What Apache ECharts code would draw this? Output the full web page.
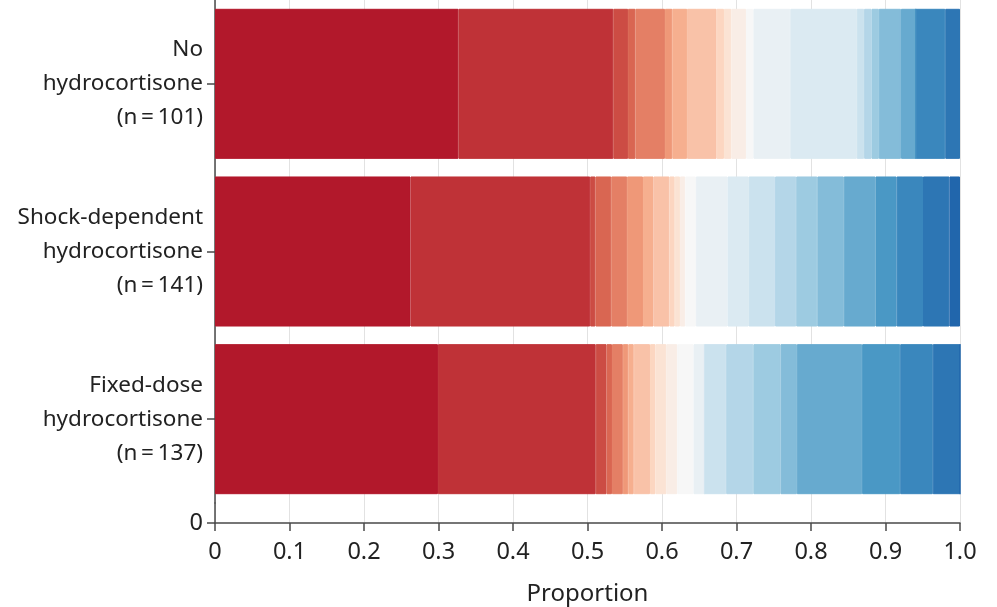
<!DOCTYPE html>
<html><head><meta charset="utf-8">
<script src="https://cdn.jsdelivr.net/npm/echarts@6/dist/echarts.min.js"></script>
<style>html,body{margin:0;padding:0;background:#fff}#c{width:997px;height:607px}</style>
</head><body><div id="c"></div>
<script>
// Groups (top to bottom)
const groupNames = ['No\nhydrocortisone', 'Shock-dependent\nhydrocortisone', 'Fixed-dose\nhydrocortisone'];
const groupN = [101, 141, 137];
// Ordinal outcome levels: death, then 0..21 organ support-free days
const outcomeLevels = ['Death','0','1','2','3','4','5','6','7','8','9','10','11','12','13','14','15','16','17','18','19','20','21'];
// Patients per outcome level
const countsNo    = [33,21,2,1,4,1,2,4,1,1,2,1,5,9,1,1,1,3,2,0,4,2,0];
const countsShock = [37,34,1,3,3,3,2,3,1,1,1,2,6,4,5,4,4,5,6,4,5,5,2];
const countsFixed = [41,29,2,1,2,1,1,3,1,2,2,3,2,0,4,5,5,3,12,7,6,5,0];
const xTickLabels = ['0','0.1','0.2','0.3','0.4','0.5','0.6','0.7','0.8','0.9','1.0'];
const paletteAnchors = ['#b2182b','#d6604d','#f4a582','#fddbc7','#f7f7f7','#d1e5f0','#92c5de','#4393c3','#2166ac'];

function hex2rgb(h){return [parseInt(h.slice(1,3),16),parseInt(h.slice(3,5),16),parseInt(h.slice(5,7),16)];}
function paletteAt(i, n){
  const t = i/(n-1)*(paletteAnchors.length-1);
  const k = Math.min(Math.floor(t), paletteAnchors.length-2);
  const f = t-k;
  const a = hex2rgb(paletteAnchors[k]), b = hex2rgb(paletteAnchors[k+1]);
  const c = a.map((v,j)=>Math.round(v+(b[j]-v)*f));
  return 'rgb('+c.join(',')+')';
}

const allCounts = [countsNo, countsShock, countsFixed];
const yLabels = groupNames.map((g,i)=> g + '\n(n\u2009=\u2009' + groupN[i] + ')');

const FONT = 'Noto Sans';
const TXT = '#222';
const AX = '#4a4a4a';
const SPLIT = '#e2e2e2';

const series = outcomeLevels.map((lvl, k) => {
  const col = paletteAt(k, outcomeLevels.length);
  return {
    name: lvl,
    type: 'bar',
    stack: 'total',
    xAxisIndex: 0, yAxisIndex: 0,
    barCategoryGap: '10.5%',
    itemStyle: { color: col, borderColor: col, borderWidth: 1 },
    emphasis: { disabled: true },
    data: allCounts.map((c, g) => c[k] / groupN[g])
  };
});

const chart = echarts.init(document.getElementById('c'), null, {renderer:'canvas'});
chart.setOption({
  animation: false,
  backgroundColor: '#fff',
  grid: [
    { left: 215, right: 37, top: 0, height: 503 },
    { left: 215, right: 37, top: 503, height: 21 }
  ],
  xAxis: [
    { gridIndex: 0, type: 'value', min: 0, max: 1, interval: 0.1,
      axisLine: {show:false}, axisTick: {show:false}, axisLabel: {show:false},
      splitLine: {show:true, lineStyle:{color:SPLIT, width:1}} },
    { gridIndex: 1, type: 'value', min: 0, max: 1, interval: 0.1,
      axisLine: {show:true, onZero:false, lineStyle:{color:AX, width:1.5}},
      axisTick: {show:true, length:8, lineStyle:{color:AX, width:1.5}},
      axisLabel: {show:true, margin:17, color:TXT, fontFamily:FONT, fontSize:23.5,
        formatter: (v)=> xTickLabels[Math.round(v*10)] },
      splitLine: {show:true, lineStyle:{color:SPLIT, width:1}},
      name: 'Proportion', nameLocation: 'middle', nameGap: 59,
      nameTextStyle: {color:TXT, fontFamily:FONT, fontSize:24} }
  ],
  yAxis: [
    { gridIndex: 0, type: 'category', data: yLabels, inverse: true,
      axisLine: {show:true, lineStyle:{color:AX, width:1.5}},
      axisTick: {show:true, alignWithLabel:true, length:8, lineStyle:{color:AX, width:1.5}},
      axisLabel: {margin:12, color:TXT, fontFamily:FONT, fontSize:22.5, lineHeight:34, align:'right'},
      splitLine: {show:false} },
    { gridIndex: 1, type: 'value', min: 0, max: 1,
      axisLine: {show:true, onZero:false, lineStyle:{color:AX, width:1.5}},
      axisTick: {show:true, length:8, customValues:[0], lineStyle:{color:AX, width:1.5}},
      axisLabel: {show:true, margin:12, color:TXT, fontFamily:FONT, fontSize:23.5, customValues:[0], formatter:(v)=> v===0?'0':''},
      splitLine: {show:false} }
  ],
  series: series
});
</script>
</body></html>
